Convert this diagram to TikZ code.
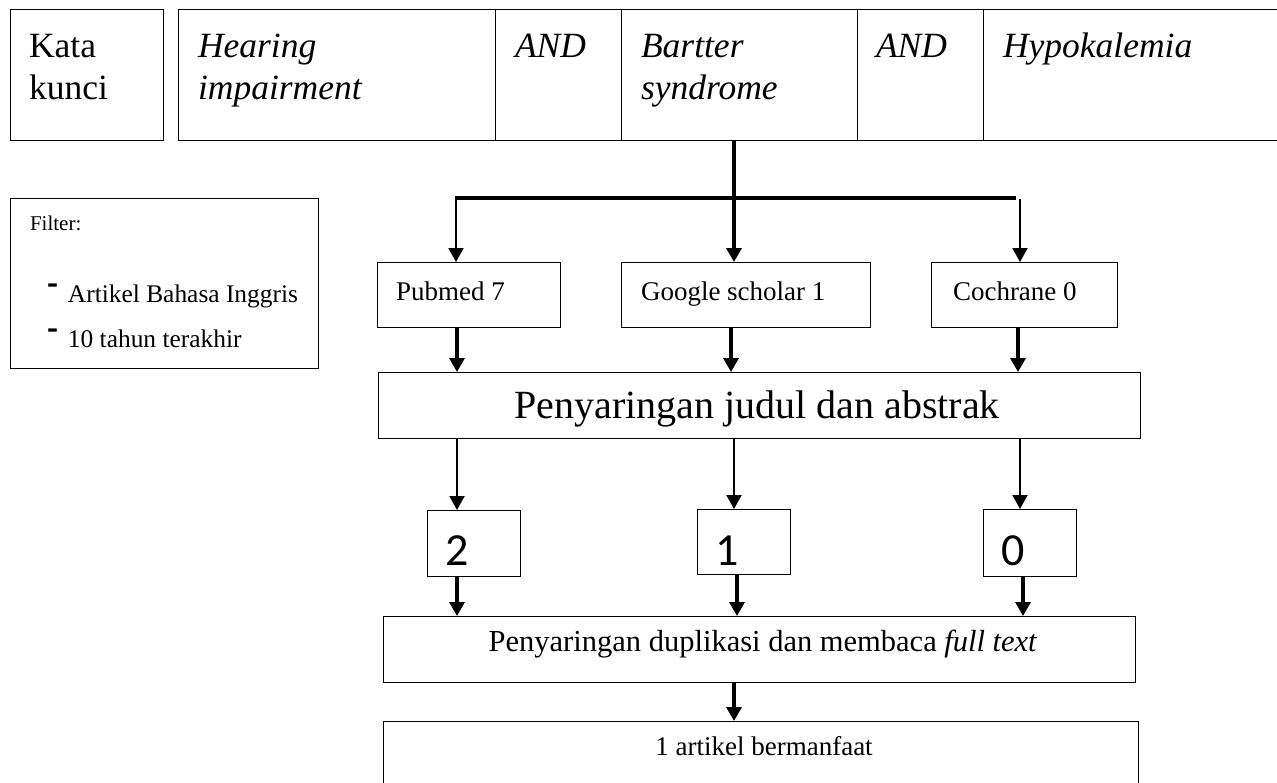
\documentclass[tikz,border=0pt]{standalone}
\usepackage{fontspec}
\usepackage{graphicx}
\setmainfont{Liberation Serif}
\newfontfamily\digitfont{Carlito}
\usetikzlibrary{arrows.meta}
\newcommand\myfs[1]{\fontsize{#1pt}{#1pt}\selectfont}
\newcommand\mydash{\raisebox{.3em}{\scalebox{1.3}[1.5]{\textbf{-}}}}
\begin{document}
\begin{tikzpicture}[x=1pt,y=-1pt,
  box/.style={draw, line width=1pt, inner sep=0pt, outer sep=0pt, anchor=north west},
  lbl/.style={inner sep=0pt, outer sep=0pt, anchor=base west},
  clbl/.style={inner sep=0pt, outer sep=0pt, anchor=base},
  arrowtip/.style={-{Triangle[length=14pt,width=15pt]}},
  thickarr/.style={arrowtip, line width=3.3pt},
  thinarr/.style={arrowtip, line width=2pt},
  kw/.style={lbl, font=\myfs{35.5}},
  src/.style={lbl, font=\myfs{27}},
  num/.style={lbl, font=\digitfont\myfs{46}},
]
\useasboundingbox (0,0) rectangle (1277,782);
\fill[white] (0,0) rectangle (1277,782);

% top strip
\node[box, minimum width=153pt, minimum height=131pt] (kata) at (10,9) {};
\node[box, minimum width=317pt, minimum height=131pt] (hear) at (178,9) {};
\node[box, minimum width=126pt, minimum height=131pt] (and1) at (495,9) {};
\node[box, minimum width=236pt, minimum height=131pt] (bart) at (621,9) {};
\node[box, minimum width=126pt, minimum height=131pt] (and2) at (857,9) {};
\node[box, minimum width=310pt, minimum height=131pt] (hypo) at (983,9) {};

\node[kw] (t1) at (29,57) {Kata};
\node[kw] (t2) at (29,99) {kunci};
\node[kw] (t3) at (198,57) {\itshape Hearing};
\node[kw] (t4) at (198,99) {\itshape impairment};
\node[kw] (t5) at (515,57) {\itshape AND};
\node[kw] (t6) at (641,57) {\itshape Bartter};
\node[kw] (t7) at (641,99) {\itshape syndrome};
\node[kw] (t8) at (876,57) {\itshape AND};
\node[kw] (t9) at (1003,57) {\itshape Hypokalemia};

% filter box
\node[box, minimum width=308pt, minimum height=170pt] (filt) at (10,198) {};
\node[lbl, font=\myfs{21}] (f1) at (30,230) {Filter:};
\node[lbl, font=\myfs{25.4}] (f2) at (47,302) {\mydash\hspace{10pt}Artikel Bahasa Inggris};
\node[lbl, font=\myfs{25.4}] (f3) at (47,347) {\mydash\hspace{10pt}10 tahun terakhir};

% source boxes
\node[box, minimum width=183pt, minimum height=65pt] (pub) at (377,262) {};
\node[box, minimum width=249pt, minimum height=65pt] (goo) at (621,262) {};
\node[box, minimum width=186pt, minimum height=65pt] (coch) at (931,262) {};
\node[src] (s1) at (396,300) {Pubmed 7};
\node[src] (s2) at (641,300) {Google scholar 1};
\node[src] (s3) at (953,300) {Cochrane 0};

% screening title/abstract
\node[box, minimum width=762pt, minimum height=66pt] (jud) at (378,372) {};
\node[clbl, font=\myfs{40}] (jt) at (757,418) {Penyaringan judul dan abstrak};

% number boxes
\node[box, minimum width=93pt, minimum height=66pt] (n2) at (427,510) {};
\node[box, minimum width=93pt, minimum height=65pt] (n1) at (697,509) {};
\node[box, minimum width=93pt, minimum height=67pt] (n0) at (983,509) {};
\node[num] (d2) at (445,565) {2};
\node[num] (d1) at (715,565) {1};
\node[num] (d0) at (1001,565) {0};

% duplicate screening
\node[box, minimum width=752pt, minimum height=66pt] (dup) at (383,616) {};
\node[clbl, font=\myfs{30.5}] (dt) at (763,651) {Penyaringan duplikasi dan membaca \textit{full text}};

% final
\node[box, minimum width=755pt, minimum height=90pt] (fin) at (383,721) {};
\node[clbl, font=\myfs{27}] (ft) at (764,755) {1 artikel bermanfaat};

% helper coordinates
\coordinate (xa) at (457,0);
\coordinate (xb) at (734,0);
\coordinate (xb2) at (731,0);
\coordinate (xb3) at (737,0);
\coordinate (xc) at (1020,0);
\coordinate (xc2) at (1018,0);
\coordinate (xc3) at (1023,0);
\coordinate (barL) at (455,198);
\coordinate (barR) at (1016,198);
\coordinate (brL) at (456,196);
\coordinate (brR) at (1020,199);

% connectors
\draw[thickarr] (bart.south -| xb) -- (goo.north -| xb);
\draw[line width=4pt] (barL) -- (barR);
\draw[thinarr] (brL) -- (pub.north -| brL);
\draw[thinarr] (brR) -- (coch.north -| brR);

\draw[thickarr] (pub.south -| xa) -- (jud.north -| xa);
\draw[thickarr] (goo.south -| xb2) -- (jud.north -| xb2);
\draw[thickarr] (coch.south -| xc2) -- (jud.north -| xc2);

\draw[thinarr] (jud.south -| xa) -- (n2.north -| xa);
\draw[thinarr] (jud.south -| xb) -- (n1.north -| xb);
\draw[thinarr] (jud.south -| xc) -- (n0.north -| xc);

\draw[thickarr] (n2.south -| xa) -- (dup.north -| xa);
\draw[thickarr] (n1.south -| xb3) -- (dup.north -| xb3);
\draw[thickarr] (n0.south -| xc3) -- (dup.north -| xc3);

\draw[thickarr] (dup.south -| xb) -- (fin.north -| xb);
\end{tikzpicture}
\end{document}
